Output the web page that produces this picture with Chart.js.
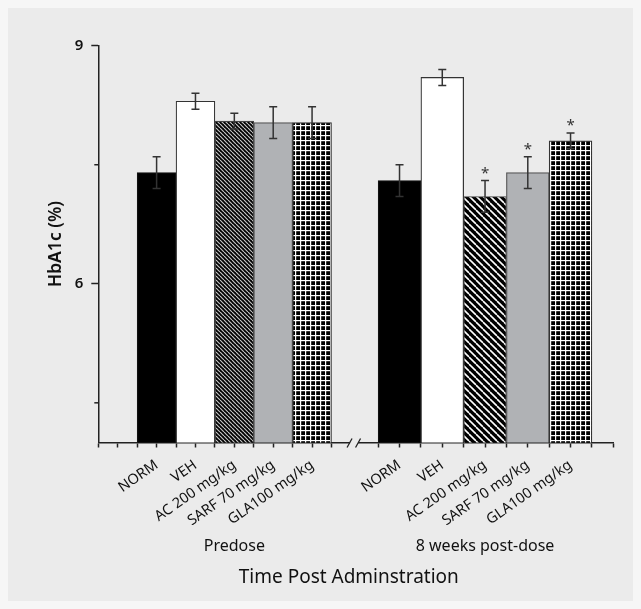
<!DOCTYPE html>
<html>
<head>
<meta charset="utf-8">
<script src="https://cdn.jsdelivr.net/npm/chart.js@4.4.1/dist/chart.umd.min.js"></script>
<style>
  html, body { margin: 0; padding: 0; background: #f6f6f6; }
  #wrap { position: relative; width: 641px; height: 609px; }
  #panel { position: absolute; left: 8px; top: 8px; width: 625px; height: 593px; background: #ebebeb; }
  #chart { position: absolute; left: 0; top: 0; }
</style>
</head>
<body>
<div id="wrap"><div id="panel"></div><canvas id="chart" width="641" height="609"></canvas></div>
<script>
// data
const groups = ['Predose', '8 weeks post-dose'];
const treatments = ['NORM', 'VEH', 'AC 200 mg/kg', 'SARF 70 mg/kg', 'GLA100 mg/kg'];
const predoseMeans = [7.40, 8.30, 8.05, 8.03, 8.03];
const predoseErrors = [0.20, 0.10, 0.10, 0.20, 0.20];
const postMeans = [7.30, 8.60, 7.10, 7.40, 7.80];
const postErrors = [0.20, 0.10, 0.20, 0.20, 0.10];
const postMarks = ['', '', '*', '*', '*'];
const yTickValues = [4.5, 6, 7.5, 9];
const yTickLabels = ['', '6', '', '9'];
const xTitle = 'Time Post Adminstration';

// broken x axis layout (axis units)
const slotStart = [2, 14.4];
const half = [1, 1.1];
const xEnd = 26.5;
const breakAt = 13.16;
const bg = '#ebebeb';

const means = [predoseMeans, postMeans];
const errors = [predoseErrors, postErrors];
const marks = [['', '', '', '', ''], postMarks];

function barPos(g, i) { return slotStart[g] + half[g] * (2 * i + 1); }

const xTickList = [{value: 0, label: ''}, {value: 1, label: ''}];
groups.forEach((_, g) => {
  for (let k = 0; k <= 2 * treatments.length; k++) {
    xTickList.push({value: slotStart[g] + half[g] * k, label: k % 2 ? treatments[(k - 1) / 2] : ''});
  }
});
xTickList.push({value: xEnd, label: ''});

const mainCtx = document.getElementById('chart').getContext('2d');

function makePattern(size, draw) {
  const c = document.createElement('canvas');
  c.width = size; c.height = size;
  draw(c.getContext('2d'), size);
  return mainCtx.createPattern(c, 'repeat');
}
function diagonal(size, color, width) {
  return makePattern(size, (g, s) => {
    g.fillStyle = '#000'; g.fillRect(0, 0, s, s);
    g.strokeStyle = color; g.lineWidth = width;
    [-s, 0, s].forEach(o => { g.beginPath(); g.moveTo(o, 0); g.lineTo(o + s, s); g.stroke(); });
  });
}
function grid(size) {
  return makePattern(size, (g, s) => {
    g.fillStyle = '#fff'; g.fillRect(0, 0, s, s);
    g.fillStyle = '#000'; g.fillRect(1.2, 1.2, s - 1.2, s - 1.2);
  });
}

const fills = [
  ['#000', '#fff', diagonal(4, '#c4c4c4', 1.2), '#b0b2b5', grid(5)],
  ['#000', '#fff', diagonal(7, '#fff', 1.6), '#b0b2b5', grid(5)]
];
const edges = ['#111', '#333', '#444', '#555', '#333'];

const errorBars = {
  id: 'errorBars',
  afterDatasetsDraw(chart) {
    const {ctx, scales: {y}} = chart;
    ctx.save();
    ctx.strokeStyle = '#333';
    ctx.lineWidth = 1.5;
    ctx.fillStyle = '#333';
    ctx.font = '15px "Noto Sans"';
    ctx.textAlign = 'center';
    ctx.textBaseline = 'alphabetic';
    chart.data.datasets.forEach((ds, g) => {
      chart.getDatasetMeta(g).data.forEach((bar, i) => {
        const top = y.getPixelForValue(means[g][i] + errors[g][i]);
        const bot = y.getPixelForValue(means[g][i] - errors[g][i]);
        ctx.beginPath();
        ctx.moveTo(bar.x, top); ctx.lineTo(bar.x, bot);
        ctx.moveTo(bar.x - 4, top); ctx.lineTo(bar.x + 4, top);
        ctx.moveTo(bar.x - 4, bot); ctx.lineTo(bar.x + 4, bot);
        ctx.stroke();
        if (marks[g][i]) ctx.fillText(marks[g][i], bar.x, top - 2.5);
      });
    });
    ctx.restore();
  }
};

const extras = {
  id: 'extras',
  afterDraw(chart) {
    const {ctx, chartArea, scales: {x, y}} = chart;
    ctx.save();
    // minor y ticks
    ctx.strokeStyle = '#222';
    ctx.lineWidth = 1.5;
    yTickValues.forEach((v, i) => {
      if (yTickLabels[i]) return;
      const py = y.getPixelForValue(v);
      ctx.beginPath(); ctx.moveTo(chartArea.left - 4, py); ctx.lineTo(chartArea.left, py); ctx.stroke();
    });
    // axis break
    const bx = x.getPixelForValue(breakAt);
    const yb = chartArea.bottom;
    ctx.fillStyle = bg;
    ctx.fillRect(bx - 4, yb - 2, 8, 4);
    ctx.lineWidth = 1.3;
    ctx.beginPath();
    ctx.moveTo(bx - 7, yb + 5); ctx.lineTo(bx - 2, yb - 4);
    ctx.moveTo(bx + 1.5, yb + 5); ctx.lineTo(bx + 6.5, yb - 4);
    ctx.stroke();
    // group names and axis title
    ctx.fillStyle = '#111';
    ctx.font = '16px "Noto Sans"';
    ctx.textAlign = 'center';
    ctx.textBaseline = 'middle';
    groups.forEach((name, g) => {
      const cx = (x.getPixelForValue(barPos(g, 0)) + x.getPixelForValue(barPos(g, treatments.length - 1))) / 2;
      ctx.fillText(name, cx, 546);
    });
    ctx.font = '19px "Noto Sans"';
    ctx.fillText(xTitle, (chartArea.left + chartArea.right) / 2 - 7, 578);
    ctx.restore();
  }
};

Chart.defaults.font.family = '"Noto Sans", sans-serif';
Chart.defaults.color = '#111';

new Chart(mainCtx, {
  type: 'bar',
  data: {
    datasets: groups.map((name, g) => ({
      label: name,
      data: means[g].map((v, i) => ({x: barPos(g, i), y: v})),
      backgroundColor: fills[g],
      borderColor: edges,
      borderWidth: 1.2,
      grouped: false,
      barThickness: ctx => {
        const s = ctx.chart.scales.x;
        return s.getPixelForValue(2 * half[g]) - s.getPixelForValue(0);
      }
    }))
  },
  options: {
    responsive: false,
    animation: false,
    layout: { padding: { top: 45.7, right: 27.7, left: 0, bottom: 0 } },
    plugins: { legend: { display: false }, tooltip: { enabled: false } },
    scales: {
      x: {
        type: 'linear',
        offset: false,
        min: 0,
        max: xEnd,
        afterBuildTicks: s => { s.ticks = xTickList.map(t => ({value: t.value})); },
        afterFit: s => { s.height = 166.5; },
        grid: { offset: false, drawOnChartArea: false, tickLength: 5, tickColor: '#222', tickWidth: 1.5 },
        border: { color: '#222', width: 1.5 },
        ticks: {
          autoSkip: false,
          minRotation: 35,
          maxRotation: 35,
          padding: 9,
          font: { size: 14.5 },
          callback: (v, i) => xTickList[i] ? xTickList[i].label : ''
        }
      },
      y: {
        min: 4,
        max: 9,
        afterBuildTicks: s => { s.ticks = yTickValues.map(v => ({value: v})); },
        afterFit: s => { s.width = 98.3; },
        grid: {
          drawOnChartArea: false,
          tickLength: 7,
          tickWidth: 1.5,
          tickColor: c => yTickLabels[c.index] ? '#222' : 'rgba(0,0,0,0)'
        },
        border: { color: '#222', width: 1.5 },
        ticks: {
          padding: 8,
          font: { size: 15, weight: '600' },
          callback: (v, i) => yTickLabels[i]
        },
        title: { display: true, text: 'HbA1c (%)', font: { size: 17.5, weight: '600' }, padding: { top: 46, bottom: 0 } }
      }
    }
  },
  plugins: [errorBars, extras]
});
</script>
</body>
</html>
